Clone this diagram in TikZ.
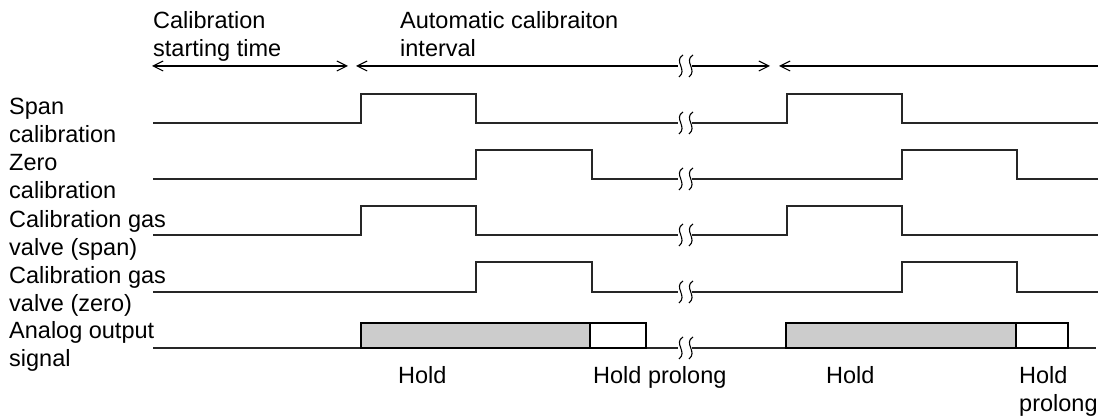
\documentclass[tikz,border=0pt]{standalone}
\usepackage{fontspec}
\setmainfont{Liberation Sans}
\usetikzlibrary{arrows.meta}
\begin{document}
\begin{tikzpicture}[x=1pt,y=-1pt,
  lbl/.style={inner sep=0pt,anchor=base west,align=left,font=\fontsize{23.5}{28.5}\selectfont},
  sig/.style={line width=1.4pt,black!85,line join=miter},
  dim/.style={line width=1.1pt,black},
  tip/.style={-{Straight Barb[length=10pt,width=10pt,line width=1.1pt]}},
  brk/.pic={\draw[line width=1.1pt,black] (3,-11) .. controls (-7,-5) and (8,4) .. (-1,11);},
  holdbox/.style={draw=black,line width=1.2pt,fill=black!20}]
\useasboundingbox (0,0) rectangle (1098,419);
% top labels (anchored at the baseline of their last line)
\node[lbl] (cst) at (153,57) {Calibration\\starting time};
\node[lbl] (aci) at (400,57) {Automatic calibraiton\\interval};
% top dimension arrows
\coordinate (a1l) at (152,66); \coordinate (a1r) at (348,66);
\coordinate (a2l) at (356,66); \coordinate (a2m) at (678,66);
\coordinate (a2n) at (692,66); \coordinate (a2r) at (770,66);
\coordinate (a3l) at (779,66); \coordinate (a3r) at (1098,66);
\draw[dim,{Straight Barb[length=10pt,width=10pt,line width=1.1pt]}-{Straight Barb[length=10pt,width=10pt,line width=1.1pt]}] (a1l) -- (a1r);
\draw[dim,{Straight Barb[length=10pt,width=10pt,line width=1.1pt]}-] (a2l) -- (a2m);
\draw[dim,tip] (a2n) -- (a2r);
\draw[dim,{Straight Barb[length=10pt,width=10pt,line width=1.1pt]}-] (a3l) -- (a3r);
\pic at (680,66) {brk}; \pic at (690,66) {brk};
% left labels
\node[lbl] (l1) at (9,143) {Span\\calibration};
\node[lbl] (l2) at (9,199) {Zero\\calibration};
\node[lbl] (l3) at (9,256) {Calibration gas\\valve (span)};
\node[lbl] (l4) at (9,312) {Calibration gas\\valve (zero)};
\node[lbl] (l5) at (9,367) {Analog output\\signal};
% span calibration
\draw[sig] (153,123) -- (361,123) -- (361,94) -- (476,94) -- (476,123) -- (678,123);
\draw[sig] (692,123) -- (787,123) -- (787,94) -- (902,94) -- (902,123) -- (1098,123);
\pic at (680,123) {brk}; \pic at (690,123) {brk};
% zero calibration
\draw[sig] (153,179) -- (476,179) -- (476,150) -- (592,150) -- (592,179) -- (678,179);
\draw[sig] (692,179) -- (902,179) -- (902,150) -- (1017,150) -- (1017,179) -- (1098,179);
\pic at (680,179) {brk}; \pic at (690,179) {brk};
% gas valve span
\draw[sig] (153,235) -- (361,235) -- (361,206) -- (476,206) -- (476,235) -- (678,235);
\draw[sig] (692,235) -- (787,235) -- (787,206) -- (902,206) -- (902,235) -- (1098,235);
\pic at (680,235) {brk}; \pic at (690,235) {brk};
% gas valve zero
\draw[sig] (153,292) -- (476,292) -- (476,262) -- (592,262) -- (592,292) -- (678,292);
\draw[sig] (692,292) -- (902,292) -- (902,262) -- (1017,262) -- (1017,292) -- (1098,292);
\pic at (680,292) {brk}; \pic at (690,292) {brk};
% analog output
\draw[sig] (153,348) -- (678,348);
\draw[sig] (692,348) -- (1096,348);
\pic at (680,348) {brk}; \pic at (690,348) {brk};
\draw[holdbox] (361,323) rectangle (590,348);
\draw[holdbox,fill=white] (590,323) rectangle (646,348);
\draw[holdbox] (786,323) rectangle (1016,348);
\draw[holdbox,fill=white] (1016,323) rectangle (1068,348);
% bottom labels
\node[lbl] (h1) at (398,384) {Hold};
\node[lbl] (h2) at (593,384) {Hold prolong};
\node[lbl] (h3) at (826,384) {Hold};
\node[lbl] (h4) at (1019,412) {Hold\\prolong};
\end{tikzpicture}
\end{document}
